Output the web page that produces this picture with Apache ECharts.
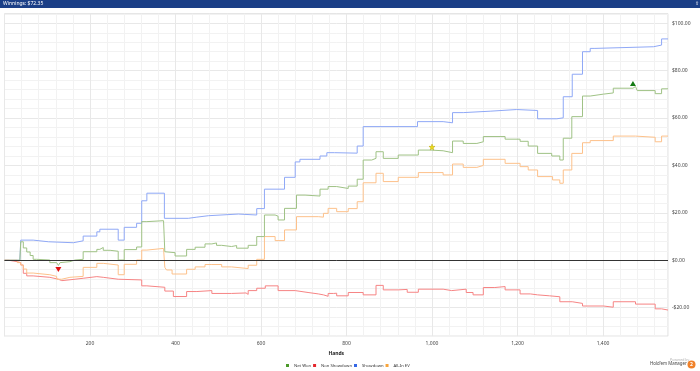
<!DOCTYPE html>
<html>
<head>
<meta charset="utf-8">
<script src="https://cdn.jsdelivr.net/npm/echarts@6/dist/echarts.min.js"></script>
<style>html,body{margin:0;padding:0;background:#fff;}#chart{width:700px;height:371px;}</style>
</head>
<body>
<div id="chart"></div>
<script>
// ---- Data ----
const titleText = 'Winnings: $72.35';
const seriesNames = ['Net Won', 'Non Showdown', 'Showdown', 'All-In EV'];

const netWonHands  = [0, 36, 38, 44, 52, 60, 67, 75, 106, 122, 126, 130, 134, 153, 165, 184, 216, 223, 231, 247, 266, 280, 309, 321, 333, 372, 375, 379, 399, 426, 446, 469, 485, 496, 508, 531, 543, 570, 590, 608, 633, 640, 655, 683, 703, 738, 757, 777, 804, 825, 839, 859, 869, 886, 921, 968, 997, 1026, 1048, 1073, 1105, 1120, 1171, 1206, 1225, 1247, 1280, 1299, 1307, 1327, 1352, 1370, 1401, 1424, 1470, 1476, 1480, 1522, 1537, 1552];
const netWonValues = [0, 0, 7.8, 5.2, 3.5, 2.0, 0.4, 0.1, -1.0, -1.5, -2.2, -1.0, -0.6, 0.1, 0.4, 3.6, 4.6, 5.4, 4.2, 3.8, 0.1, 4.5, 5.6, 16.3, 16.7, 16.3, 3.6, 3.2, 1.8, 4.6, 5.5, 6.9, 7.3, 6.3, 5.8, 6.2, 5.1, 6.3, 10.0, 19.1, 18.6, 17.0, 21.9, 27.5, 27.1, 30.0, 31.1, 30.3, 31.3, 34.2, 42.3, 43.0, 45.8, 43.0, 44.4, 46.5, 46.2, 45.4, 50.3, 49.3, 50.0, 52.2, 51.1, 50.2, 48.2, 45.1, 44.0, 42.3, 51.5, 60.6, 69.3, 70.1, 70.6, 72.6, 73.3, 72.6, 71.6, 70.3, 72.35, 72.35];

const nonShowdownHands  = [0, 10, 20, 30, 38, 44, 52, 67, 106, 126, 134, 165, 184, 216, 231, 266, 321, 333, 375, 395, 426, 450, 485, 531, 565, 570, 590, 610, 640, 680, 710, 734, 746, 757, 770, 777, 804, 839, 869, 886, 921, 942, 968, 1026, 1046, 1080, 1096, 1120, 1147, 1171, 1206, 1230, 1247, 1275, 1299, 1328, 1352, 1401, 1424, 1476, 1522, 1537, 1552];
const nonShowdownValues = [0, -0.3, -0.6, -1.0, -2.0, -5.5, -6.6, -7.2, -8.0, -8.6, -8.0, -7.6, -6.9, -7.2, -8.0, -8.3, -10.8, -11.4, -13.0, -15.3, -13.2, -12.8, -14.0, -13.8, -14.4, -12.8, -11.8, -10.8, -12.8, -13.6, -14.2, -14.6, -15.2, -14.0, -13.9, -15.0, -13.6, -14.6, -10.6, -12.5, -12.3, -13.5, -12.2, -12.8, -12.2, -13.6, -14.6, -11.5, -11.1, -12.5, -14.2, -14.6, -15.0, -15.4, -17.5, -18.2, -19.3, -19.8, -17.5, -18.5, -20.5, -21.0, -21.0];

const showdownHands  = [0, 36, 38, 67, 103, 161, 184, 216, 223, 266, 280, 309, 321, 333, 374, 430, 450, 477, 547, 590, 608, 655, 680, 691, 738, 754, 772, 825, 839, 966, 1026, 1048, 1073, 1136, 1198, 1247, 1292, 1307, 1328, 1352, 1370, 1381, 1518, 1537, 1552];
const showdownValues = [0, 0, 8.5, 7.8, 7.4, 8.2, 10.2, 12.0, 13.1, 8.5, 13.9, 15.6, 25.1, 28.3, 17.7, 18.2, 18.8, 19.5, 19.1, 21.8, 30.0, 35.0, 41.5, 42.6, 44.0, 45.4, 45.2, 48.2, 56.4, 58.5, 58.0, 62.3, 62.9, 63.6, 63.2, 59.7, 60.1, 69.0, 78.5, 88.0, 89.4, 90.1, 90.8, 93.4, 93.4];

const allInEvHands  = [0, 30, 38, 44, 52, 67, 106, 122, 134, 153, 184, 216, 231, 266, 280, 309, 321, 333, 372, 375, 379, 392, 426, 446, 469, 485, 508, 531, 570, 590, 608, 633, 655, 683, 734, 746, 757, 777, 804, 825, 839, 869, 886, 921, 968, 1026, 1048, 1073, 1105, 1120, 1171, 1206, 1225, 1247, 1282, 1299, 1307, 1327, 1352, 1370, 1424, 1476, 1522, 1537, 1552];
const allInEvValues = [0, -1.0, -2.0, -3.7, -5.4, -6.1, -6.8, -8.0, -7.2, -6.8, -3.0, -1.3, -2.0, -6.1, -1.7, 0.1, 4.3, 5.0, 4.3, -3.0, -4.1, -5.8, -3.8, -2.8, -1.8, -1.8, -2.8, -3.5, -2.1, 0.4, 10.0, 8.3, 12.8, 18.4, 18.2, 19.8, 21.9, 20.5, 21.8, 24.7, 32.7, 36.7, 33.2, 35.0, 37.0, 36.0, 40.6, 39.2, 40.0, 42.6, 40.9, 39.5, 38.1, 35.3, 33.9, 32.5, 38.1, 45.1, 49.6, 50.5, 52.4, 51.9, 50.0, 52.4, 52.4];

const starHand = 1000;
const starValue = 46.5;

const xTickLabels = [200, 400, 600, 800, 1000, 1200, 1400];
const yTickLabels = [-20, 0, 20, 40, 60, 80, 100];

// ---- Chart ----
function pairs(h, v) { return h.map((x, i) => [x, v[i]]); }
const FONT = '"Noto Sans", "Liberation Sans", sans-serif';
const lineColors = ['#9fc285', '#f68484', '#8fa8f6', '#fdc18a'];
const legendColors = ['#4c9a2a', '#e5262d', '#3467e6', '#f8a43a'];

const chart = echarts.init(document.getElementById('chart'), null, { renderer: 'canvas' });

function mkSeries(i, h, v, extra) {
  return Object.assign({
    name: seriesNames[i],
    type: 'line',
    step: 'end',
    data: pairs(h, v),
    showSymbol: false,
    symbol: 'none',
    silent: true,
    lineStyle: { color: lineColors[i], width: 1 },
    itemStyle: { color: lineColors[i] },
    z: 3
  }, extra || {});
}

const option = {
  animation: false,
  backgroundColor: '#ffffff',
  textStyle: { fontFamily: FONT },
  grid: { left: 4.5, right: 32, top: 13.8, bottom: 34.9, show: true, borderColor: '#dcdcdc', borderWidth: 1, containLabel: false, outerBoundsMode: 'none' },
  legend: {
    left: 286, top: 363.5, padding: 0,
    icon: 'rect', itemWidth: 3, itemHeight: 3, itemGap: 2,
    textStyle: { fontSize: 4.2, color: '#333', fontFamily: FONT },
    data: seriesNames.map((n, i) => ({ name: n, itemStyle: { color: legendColors[i] } }))
  },
  xAxis: {
    type: 'value', min: 0, max: 1552, interval: 40,
    name: 'Hands', nameLocation: 'middle', nameGap: 12,
    nameTextStyle: { fontSize: 5, fontWeight: 'bold', color: '#222', fontFamily: FONT },
    axisLine: { show: false }, axisTick: { show: false },
    axisLabel: {
      fontSize: 5, color: '#444', margin: 5, showMaxLabel: false,
      formatter: v => xTickLabels.indexOf(v) >= 0 ? v.toLocaleString('en-US') : ''
    },
    splitLine: { show: true, lineStyle: { color: ['#e8e8e8', '#f2f2f2', '#f2f2f2', '#f2f2f2', '#f2f2f2'], width: 1 } }
  },
  yAxis: {
    type: 'value', position: 'right', min: -32, max: 104, interval: 4,
    name: 'Winnings', nameLocation: 'middle', nameGap: 22, nameRotate: -90,
    nameTextStyle: { fontSize: 5, fontWeight: 'bold', color: '#222', fontFamily: FONT },
    axisLine: { show: false }, axisTick: { show: false },
    axisLabel: {
      fontSize: 5, color: '#444', margin: 4, showMaxLabel: false,
      formatter: v => yTickLabels.indexOf(v) >= 0 ? (v < 0 ? '-$' : '$') + Math.abs(v).toFixed(2) : ''
    },
    splitLine: { show: true, lineStyle: { color: ['#f2f2f2', '#f2f2f2', '#f2f2f2', '#e8e8e8', '#f2f2f2'], width: 1 } }
  },
  series: [
    mkSeries(0, netWonHands, netWonValues, {
      z: 4,
      markPoint: {
        silent: true, label: { show: false },
        data: [
          { type: 'min', symbol: 'triangle', symbolRotate: 180, symbolSize: [6, 5], symbolOffset: [0, 4], itemStyle: { color: '#e01010' } },
          { type: 'max', symbol: 'triangle', symbolSize: [6, 5], symbolOffset: [0, -3], itemStyle: { color: '#127a12' } },
          { coord: [starHand, starValue], symbol: 'path://M50,0 L61,35 L98,35 L68,57 L79,91 L50,70 L21,91 L32,57 L2,35 L39,35 Z', symbolSize: 6, symbolOffset: [0, -3], itemStyle: { color: '#f2e01a', borderColor: '#b8a400', borderWidth: 0.5 } }
        ]
      }
    }),
    mkSeries(1, nonShowdownHands, nonShowdownValues),
    mkSeries(2, showdownHands, showdownValues, {
      markLine: {
        silent: true, symbol: 'none', label: { show: false },
        lineStyle: { color: '#333', width: 1, type: 'solid' },
        data: [{ yAxis: 0 }]
      }
    }),
    mkSeries(3, allInEvHands, allInEvValues)
  ],
  graphic: [
    { type: 'rect', left: 0, top: 0, shape: { width: 700, height: 8 }, style: { fill: '#1b3f87' }, z: 10 },
    { type: 'text', left: 3, top: 1.2, style: { text: titleText, fill: '#ffffff', font: '5px ' + FONT }, z: 11 },
    { type: 'text', left: 695, top: 1, style: { text: '⇪', fill: '#ffffff', font: '5px ' + FONT }, z: 11 },
    { type: 'text', left: 670, top: 357.5, style: { text: 'Powered by', fill: '#b0b0b0', font: '3.5px ' + FONT }, z: 11 },
    { type: 'text', left: 650, top: 362, style: { text: "Hold'em Manager", fill: '#444', font: '4.4px ' + FONT }, z: 11 },
    { type: 'circle', shape: { cx: 691.5, cy: 364.5, r: 4 }, style: { fill: '#f0822a' }, z: 11 },
    { type: 'text', left: 690, top: 362, style: { text: '2', fill: '#ffffff', font: 'bold 5px ' + FONT }, z: 12 }
  ]
};
chart.setOption(option);
</script>
</body>
</html>
